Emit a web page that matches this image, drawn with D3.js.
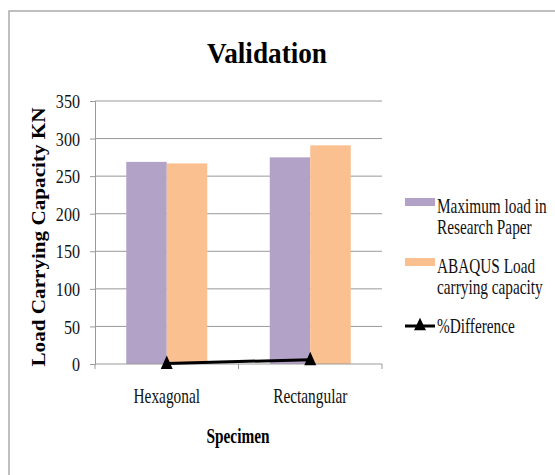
<!DOCTYPE html>
<html><head><meta charset="utf-8">
<script src="https://cdn.jsdelivr.net/npm/d3@7"></script>
<style>body{margin:0;background:#fff;} svg{display:block;} text{font-family:"Liberation Serif","Times New Roman",serif;}</style>
</head><body>
<script>
const categories = ["Hexagonal", "Rectangular"];
const seriesNames = ["Maximum load in Research Paper", "ABAQUS Load carrying capacity"];
const researchPaper = [269, 275];
const abaqus = [267, 291];
const pctDifference = [0.75, 5.8];
const yTicks = [0, 50, 100, 150, 200, 250, 300, 350];
const colors = ["#B3A2C7", "#FAC090"];

(function () {
const W = 555, H = 475;
const svg = d3.select("body").append("svg").attr("width", W).attr("height", H);

// condense text horizontally (reference text is tall and narrow)
function condense(sel, ratio) {
  sel.each(function () {
    const n = this.getComputedTextLength();
    d3.select(this).attr("textLength", n / ratio).attr("lengthAdjust", "spacingAndGlyphs");
  });
}

// frame
svg.append("rect").attr("x", 9).attr("y", 11).attr("width", W).attr("height", H)
  .attr("fill", "#fff").attr("stroke", "#aaa").attr("stroke-width", 1.5);

const pL = 95, pR = 382, pT = 101, pB = 364;
const x = d3.scaleBand().domain(categories).range([pL, pR]);
const y = d3.scaleLinear().domain([0, 350]).range([pB, pT]);

// gridlines
svg.append("g").selectAll("line").data(yTicks.filter(d => d > 0)).join("line")
  .attr("x1", pL).attr("x2", pR).attr("y1", d => y(d)).attr("y2", d => y(d))
  .attr("stroke", "#999").attr("stroke-width", 1);

// y axis
const yAxis = svg.append("g").attr("transform", `translate(${pL},0)`)
  .call(d3.axisLeft(y).tickValues(yTicks).tickSize(5).tickPadding(10));
yAxis.select(".domain").attr("stroke", "#999");
yAxis.selectAll(".tick line").attr("stroke", "#999");
yAxis.selectAll("text").attr("font-size", 18.5).attr("fill", "#111")
  .attr("font-family", "Liberation Serif").attr("dy", "0.36em");
condense(yAxis.selectAll("text"), 1.15);

// bars
const groupW = 81;
const sub = d3.scaleBand().domain([0, 1]).range([-groupW / 2, groupW / 2]);
const series = [researchPaper, abaqus];
series.forEach((vals, si) => {
  svg.append("g").selectAll("rect").data(vals).join("rect")
    .attr("x", (d, i) => x(categories[i]) + x.bandwidth() / 2 + sub(si))
    .attr("width", sub.bandwidth())
    .attr("y", d => y(d))
    .attr("height", d => pB - y(d))
    .attr("fill", colors[si]);
});

// x axis
const xAxis = svg.append("g").attr("transform", `translate(0,${pB})`);
xAxis.append("line").attr("x1", pL).attr("x2", pR).attr("stroke", "#999");
const xTickPos = [pL, ...categories.map(c => x(c) + x.bandwidth())];
xAxis.selectAll("line.t").data(xTickPos).join("line").attr("class", "t")
  .attr("x1", d => d).attr("x2", d => d).attr("y1", 0).attr("y2", 5).attr("stroke", "#999");
const xl = xAxis.selectAll("text").data(categories).join("text")
  .attr("x", d => x(d) + x.bandwidth() / 2).attr("y", 39)
  .attr("text-anchor", "middle").attr("font-size", 21.5).attr("fill", "#111").text(d => d);
condense(xl, 1.4);

// % difference line
const linePts = pctDifference.map((v, i) => [x(categories[i]) + x.bandwidth() / 2, y(v)]);
svg.append("path").attr("d", d3.line()(linePts)).attr("stroke", "#000").attr("stroke-width", 3).attr("fill", "none");
const tri = d3.symbol().type(d3.symbolTriangle).size(62);
svg.append("g").selectAll("path").data(linePts).join("path")
  .attr("d", tri).attr("transform", d => `translate(${d[0]},${d[1] + 1}) scale(1,1.3)`).attr("fill", "#000");

// title
svg.append("text").attr("x", 267).attr("y", 63).attr("text-anchor", "middle")
  .attr("font-size", 30).attr("font-weight", "bold").attr("textLength", 120).attr("lengthAdjust", "spacingAndGlyphs")
  .text("Validation");

// axis titles
svg.append("text").attr("transform", "translate(45,237) rotate(-90)").attr("text-anchor", "middle")
  .attr("font-size", 18).attr("font-weight", "bold").attr("textLength", 259).attr("lengthAdjust", "spacingAndGlyphs")
  .text("Load Carrying Capacity KN");
svg.append("text").attr("x", 238).attr("y", 443).attr("text-anchor", "middle")
  .attr("font-size", 20).attr("font-weight", "bold").attr("textLength", 63).attr("lengthAdjust", "spacingAndGlyphs")
  .text("Specimen");

// legend
const lg = svg.append("g");
const vs = 1.38; // vertical stretch of legend text
const legendItems = [
  {lines: ["Maximum load in", "Research Paper"], color: colors[0], y: 213, type: "rect"},
  {lines: ["ABAQUS Load", "carrying capacity"], color: colors[1], y: 273, type: "rect"},
  {lines: ["%Difference"], color: "#000", y: 333, type: "line"}
];
legendItems.forEach(it => {
  if (it.type === "rect") {
    lg.append("rect").attr("x", 405).attr("y", it.y - 15).attr("width", 30).attr("height", 8).attr("fill", it.color);
  } else {
    lg.append("line").attr("x1", 405).attr("x2", 435).attr("y1", it.y - 7).attr("y2", it.y - 7)
      .attr("stroke", "#000").attr("stroke-width", 3);
    lg.append("path").attr("d", tri).attr("transform", `translate(420,${it.y - 7}) scale(1,1.2)`).attr("fill", "#000");
  }
  const tx = lg.append("text").attr("transform", `translate(437,${it.y}) scale(1,${vs})`)
    .attr("font-size", 15.3).attr("fill", "#111");
  it.lines.forEach((t, k) => {
    tx.append("tspan").attr("x", 0).attr("y", k * 21 / vs).text(t);
  });
});
})();
</script>
</body></html>
